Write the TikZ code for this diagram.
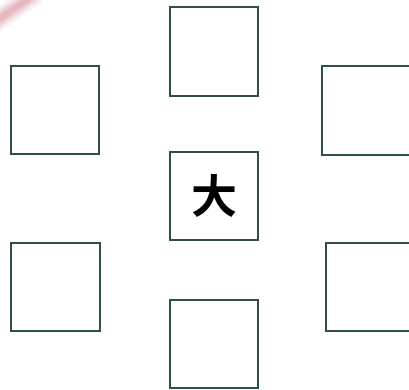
\documentclass[tikz,border=0pt]{standalone}
\usepackage{fontspec}
\newfontfamily\cjk{Noto Sans CJK SC Bold}
\usetikzlibrary{positioning}
\definecolor{slate}{HTML}{2F4F4F}
\definecolor{blush}{HTML}{D48F99}

\begin{document}
\begin{tikzpicture}[x=1pt,y=-1pt,
    box/.style={draw=slate,line width=1.6pt,fill=white,minimum size=88.5pt,
                inner sep=0pt}]
    \useasboundingbox (0,0) rectangle (409,390);
    \clip (0,0) rectangle (409,390);
    % faded stroke in the corner
    \foreach \w/\o in {22/0.12,16/0.18,11/0.25,6/0.3}
        \draw[blush,line width=\w pt,opacity=\o,line cap=round] (-8,24)--(32,-4);
    \node[box] (top) at (214,51.5) {};
    \node[box] (ltop) at (55,110) {};
    \node[box] (rtop) at (366.5,110.5) {};
    \node[box,font=\cjk\fontsize{46}{46}\selectfont] (mid) at (214,196) {大};
    \node[box] (lbot) at (55.5,287) {};
    \node[box] (rbot) at (370,287) {};
    \node[box] (bot) at (214,344) {};
\end{tikzpicture}
\end{document}
